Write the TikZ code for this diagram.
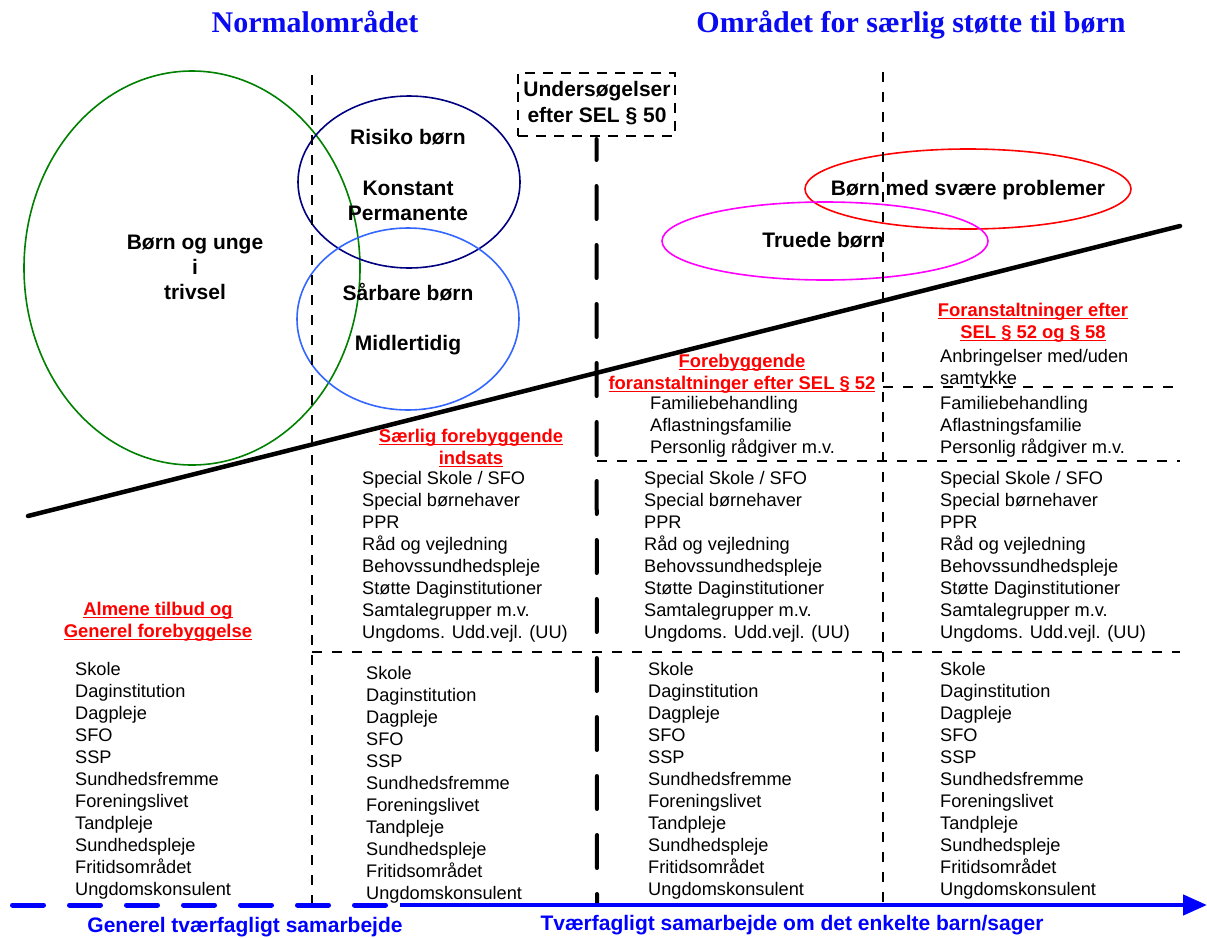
\documentclass[tikz,border=0pt]{standalone}
\usepackage{fontspec}
\setmainfont{Liberation Sans}
\newfontfamily\ttlserif{Liberation Serif}
\usetikzlibrary{arrows.meta,shapes.geometric}
\definecolor{ttlblue}{RGB}{10,10,240}
\definecolor{arrblue}{RGB}{0,0,255}
\definecolor{egreen}{RGB}{0,128,0}
\definecolor{enavy}{RGB}{0,0,128}
\definecolor{elblue}{RGB}{51,102,255}
\definecolor{emag}{RGB}{255,0,255}
\newcommand{\redul}[1]{\setbox0=\hbox{#1}\rlap{\rule[-3.2pt]{\wd0}{1.7pt}}\box0}
\tikzset{
  listtxt/.style={anchor=base west, inner sep=0pt, font=\fontsize{18.2}{22}\selectfont},
  boldlbl/.style={anchor=base, inner sep=0pt, font=\fontsize{21}{25}\selectfont\bfseries},
  redhead/.style={anchor=base, inner sep=0pt, text=red, font=\fontsize{18.4}{22}\selectfont\bfseries},
  bluetxt/.style={anchor=base, inner sep=0pt, text=arrblue, font=\fontsize{21}{25}\selectfont\bfseries},
  titletxt/.style={anchor=base, inner sep=0pt, text=ttlblue, font=\fontsize{30}{34}\selectfont\ttlserif\bfseries},
  thindash/.style={line width=1.3pt, dash pattern=on 10pt off 10pt},
  blob/.style={ellipse, draw, line width=1.6pt, inner sep=0pt},
}
\begin{document}
\begin{tikzpicture}[x=1pt,y=-1pt]
\useasboundingbox (0,0) rectangle (1207,937);

% titles
\node[titletxt] (t1) at (315,32) {Normalområdet};
\node[titletxt] (t2) at (911,32) {Området for særlig støtte til børn};

% ellipses
\node[blob, draw=egreen, minimum width=336pt, minimum height=394pt] (eGreen) at (192,268) {};
\node[blob, draw=enavy, minimum width=222pt, minimum height=172pt] (eNavy) at (409,182) {};
\node[blob, draw=elblue, minimum width=222pt, minimum height=182pt] (eBlue) at (408,319) {};
\node[blob, draw=red, minimum width=326pt, minimum height=80pt] (eRed) at (968,189) {};
\node[blob, draw=emag, minimum width=326pt, minimum height=78pt] (eMag) at (825,241) {};

% ellipse labels
\node[boldlbl] (l1) at (195,249) {Børn og unge};
\node[boldlbl] (l2) at (195,274) {i};
\node[boldlbl] (l3) at (195,299) {trivsel};
\node[boldlbl] (l4) at (408,144) {Risiko børn};
\node[boldlbl] (l5) at (408,195) {Konstant};
\node[boldlbl] (l6) at (408,220) {Permanente};
\node[boldlbl] (l7) at (408,300) {Sårbare børn};
\node[boldlbl] (l8) at (408,350) {Midlertidig};
\node[boldlbl] (l9) at (968,195) {Børn med svære problemer};
\node[boldlbl] (l10) at (823,247) {Truede børn};

% dashed box
\node[draw, line width=2pt, dash pattern=on 10pt off 8pt, minimum width=157pt, minimum height=63pt, inner sep=0pt] (sel50) at (596.5,104.5) {};
\node[boldlbl] (u1) at (597,96) {Undersøgelser};
\node[boldlbl] (u2) at (597,122) {efter SEL § 50};

% divider lines
\coordinate (v1top) at (312,75);   \coordinate (v1bot) at (312,905);
\coordinate (v3top) at (883,72);   \coordinate (v3bot) at (883,905);
\draw[thindash] (v1top) -- (v1bot);
\draw[thindash] (v3top) -- (v3bot);
\coordinate (h1a) at (312,652); \coordinate (h1b) at (1180,652);
\coordinate (h2a) at (597,461); \coordinate (h2b) at (1180,461);
\coordinate (h3a) at (883,387); \coordinate (h3b) at (1180,387);
\draw[thindash] (h1a) -- (h1b);
\draw[thindash] (h2a) -- (h2b);
\draw[thindash] (h3a) -- (h3b);
\coordinate (v2bot) at (597,905);
\draw[line width=4pt, line cap=round, dash pattern=on 33pt off 26pt, dash phase=12pt] (sel50.south) ++(0,2) -- (v2bot);

% diagonal
\coordinate (dA) at (28,516); \coordinate (dB) at (1180,226);
\draw[line width=4.5pt, line cap=round] (dA) -- (dB);

% red headings
\node[redhead] (r1a) at (158,615) {\redul{Almene tilbud og}};
\node[redhead] (r1b) at (158,637) {\redul{Generel forebyggelse}};
\node[redhead] (r2a) at (471,442) {\redul{Særlig forebyggende}};
\node[redhead] (r2b) at (471,464) {\redul{indsats}};
\node[redhead] (r3a) at (742,367) {\redul{Forebyggende}};
\node[redhead] (r3b) at (742,389) {\redul{foranstaltninger efter SEL § 52}};
\node[redhead] (r4a) at (1033,316) {\redul{Foranstaltninger efter}};
\node[redhead] (r4b) at (1033,338) {\redul{SEL § 52 og § 58}};

% lists
\def\basiclist{Skole,Daginstitution,Dagpleje,SFO,SSP,Sundhedsfremme,Foreningslivet,Tandpleje,Sundhedspleje,Fritidsområdet,Ungdomskonsulent}
\def\speclist{Special Skole / SFO,Special børnehaver,PPR,Råd og vejledning,Behovssundhedspleje,Støtte Daginstitutioner,Samtalegrupper m.v.,Ungdoms. Udd.vejl. (UU)}
\def\famlist{Familiebehandling,Aflastningsfamilie,Personlig rådgiver m.v.}

\foreach [count=\i] \t in \basiclist {
  \node[listtxt] (ba-\i) at (75,{675+(\i-1)*22}) {\t};
  \node[listtxt] (bb-\i) at (366,{679+(\i-1)*22}) {\t};
  \node[listtxt] (bc-\i) at (648,{675+(\i-1)*22}) {\t};
  \node[listtxt] (bd-\i) at (940,{675+(\i-1)*22}) {\t};
}
\foreach [count=\i] \t in \speclist {
  \node[listtxt] (sb-\i) at (362,{484+(\i-1)*22}) {\t};
  \node[listtxt] (sc-\i) at (644,{484+(\i-1)*22}) {\t};
  \node[listtxt] (sd-\i) at (940,{484+(\i-1)*22}) {\t};
}
\foreach [count=\i] \t in \famlist {
  \node[listtxt] (fc-\i) at (650,{409+(\i-1)*22}) {\t};
  \node[listtxt] (fd-\i) at (940,{409+(\i-1)*22}) {\t};
}
\node[listtxt] (an1) at (940,362) {Anbringelser med/uden};
\node[listtxt] (an2) at (940,384) {samtykke};

% bottom arrow
\coordinate (bA) at (12.5,905); \coordinate (bB) at (390,905);
\coordinate (bC) at (400,905); \coordinate (bD) at (1207,905);
\draw[arrblue, line width=5pt, line cap=round, dash pattern=on 31pt off 26pt] (bA) -- (bB);
\draw[arrblue, line width=4.5pt, -{Triangle[length=24pt,width=20pt]}] (bC) -- (bD);
\node[bluetxt] (g1) at (245,932) {Generel tværfagligt samarbejde};
\node[bluetxt] (g2) at (792,930) {Tværfagligt samarbejde om det enkelte barn/sager};
\end{tikzpicture}
\end{document}
